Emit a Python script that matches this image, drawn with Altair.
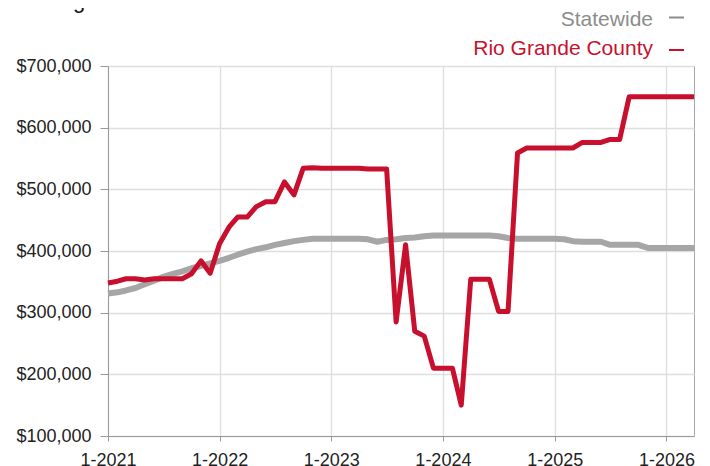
import altair as alt
import pandas as pd

# ---- data ----
months = pd.date_range("2021-01-01", "2026-04-01", freq="MS").strftime("%Y-%m-%d").tolist()

statewide = [
    331000, 333000, 336000, 340000, 346000, 352000, 358000, 363000, 367000, 372000, 376000, 380000,
    384000, 389000, 394000, 399000, 403000, 406000, 410000, 413000, 416000, 418000, 420000, 420000,
    420000, 420000, 420000, 420000, 419000, 415000, 418000, 419000, 421000, 422000, 424000, 425000,
    425000, 425000, 425000, 425000, 425000, 425000, 424000, 421000, 420000, 420000, 420000, 420000,
    420000, 419000, 416000, 415000, 415000, 415000, 410000, 410000, 410000, 410000, 405000, 405000,
    405000, 405000, 405000, 405000,
]

rio_grande = [
    348000, 351000, 355000, 355000, 353000, 355000, 355000, 355000, 355000, 363000, 384000, 364000,
    412000, 439000, 455000, 455000, 472000, 480000, 480000, 512000, 491000, 534000, 535000, 534000,
    534000, 534000, 534000, 534000, 533000, 533000, 533000, 285000, 410000, 270000, 262000, 210000,
    210000, 210000, 150000, 354000, 354000, 354000, 302000, 302000, 559000, 567000, 567000, 567000,
    567000, 567000, 567000, 576000, 576000, 576000, 581000, 581000, 650000, 650000, 650000, 650000,
    650000, 650000, 650000, 650000,
]

series_names = ["Statewide", "Rio Grande County"]
series_colors = ["#a6a6a6", "#c8102e"]
legend_text_colors = ["#8c8c8c", "#c8102e"]
title_text = "Rolling 12-Month Calculation"
x_tick_years = [2021, 2022, 2023, 2024, 2025, 2026]
y_ticks = [100000, 200000, 300000, 400000, 500000, 600000, 700000]

df_state = pd.DataFrame({"date": months, "value": statewide, "series": series_names[0]})
df_rio = pd.DataFrame({"date": months, "value": rio_grande, "series": series_names[1]})

FONT = "Liberation Sans"

x_enc = alt.X(
    "date:T",
    scale=alt.Scale(
        type="utc",
        domain=[alt.DateTime(year=2021, month=1, date=1, utc=True),
                alt.DateTime(year=2026, month=4, date=1, utc=True)],
    ),
    axis=alt.Axis(
        values=[alt.DateTime(year=y, month=1, date=1, utc=True) for y in x_tick_years],
        format="%-m-%Y",
        title=None,
        labelFontSize=18,
        labelColor="#222222",
        labelPadding=10,
        tickSize=5,
        tickColor="#999999",
        domainColor="#999999",
        gridColor="#dedede",
        gridWidth=1.3,
        labelFlush=False,
    ),
)
y_enc = alt.Y(
    "value:Q",
    scale=alt.Scale(domain=[100000, 700000], nice=False, zero=False),
    axis=alt.Axis(
        values=y_ticks,
        format="$,.0f",
        title=None,
        labelFontSize=18,
        labelColor="#222222",
        labelPadding=9,
        tickSize=8,
        tickColor="#999999",
        domainColor="#999999",
        gridColor="#dedede",
        gridWidth=1.3,
    ),
)

line_state = alt.Chart(df_state).mark_line(
    color=series_colors[0], strokeWidth=6, strokeJoin="round"
).encode(x=x_enc, y=y_enc)

line_rio = alt.Chart(df_rio).mark_line(
    color=series_colors[1], strokeWidth=5, strokeJoin="round"
).encode(x=x_enc, y=y_enc)

# custom legend (label on the left, dash on the right)
legend_layers = []
legend_text_y = [-40, -11]
legend_dash_y = [-48.5, -16]
legend_dash_colors = ["#8c8c8c", "#c8102e"]
for i, name in enumerate(series_names):
    legend_layers.append(
        alt.Chart(alt.Data(values=[{"label": name}])).mark_text(
            align="right", baseline="alphabetic", fontSize=21, font=FONT,
            color=legend_text_colors[i],
        ).encode(text="label:N", x=alt.value(545), y=alt.value(legend_text_y[i]))
    )
    legend_layers.append(
        alt.Chart(alt.Data(values=[{"label": name}])).mark_rule(
            color=legend_dash_colors[i], strokeWidth=2,
        ).encode(x=alt.value(561), x2=alt.value(576), y=alt.value(legend_dash_y[i]))
    )

title_layer = alt.Chart(alt.Data(values=[{"t": title_text}])).mark_text(
    align="left", baseline="alphabetic", fontSize=22, font=FONT, color="#111111"
).encode(text="t:N", x=alt.value(-90), y=alt.value(-58))

chart = alt.layer(line_state, line_rio, *legend_layers, title_layer).properties(
    width=586,
    height=370,
    autosize=alt.AutoSizeParams(type="none"),
    padding={"left": 100, "top": 58, "right": 8, "bottom": 30},
).configure(font=FONT).configure_view(stroke="#a8a8a8", strokeWidth=1)

chart.save("out.html", embed_options={"renderer": "svg", "actions": False})
